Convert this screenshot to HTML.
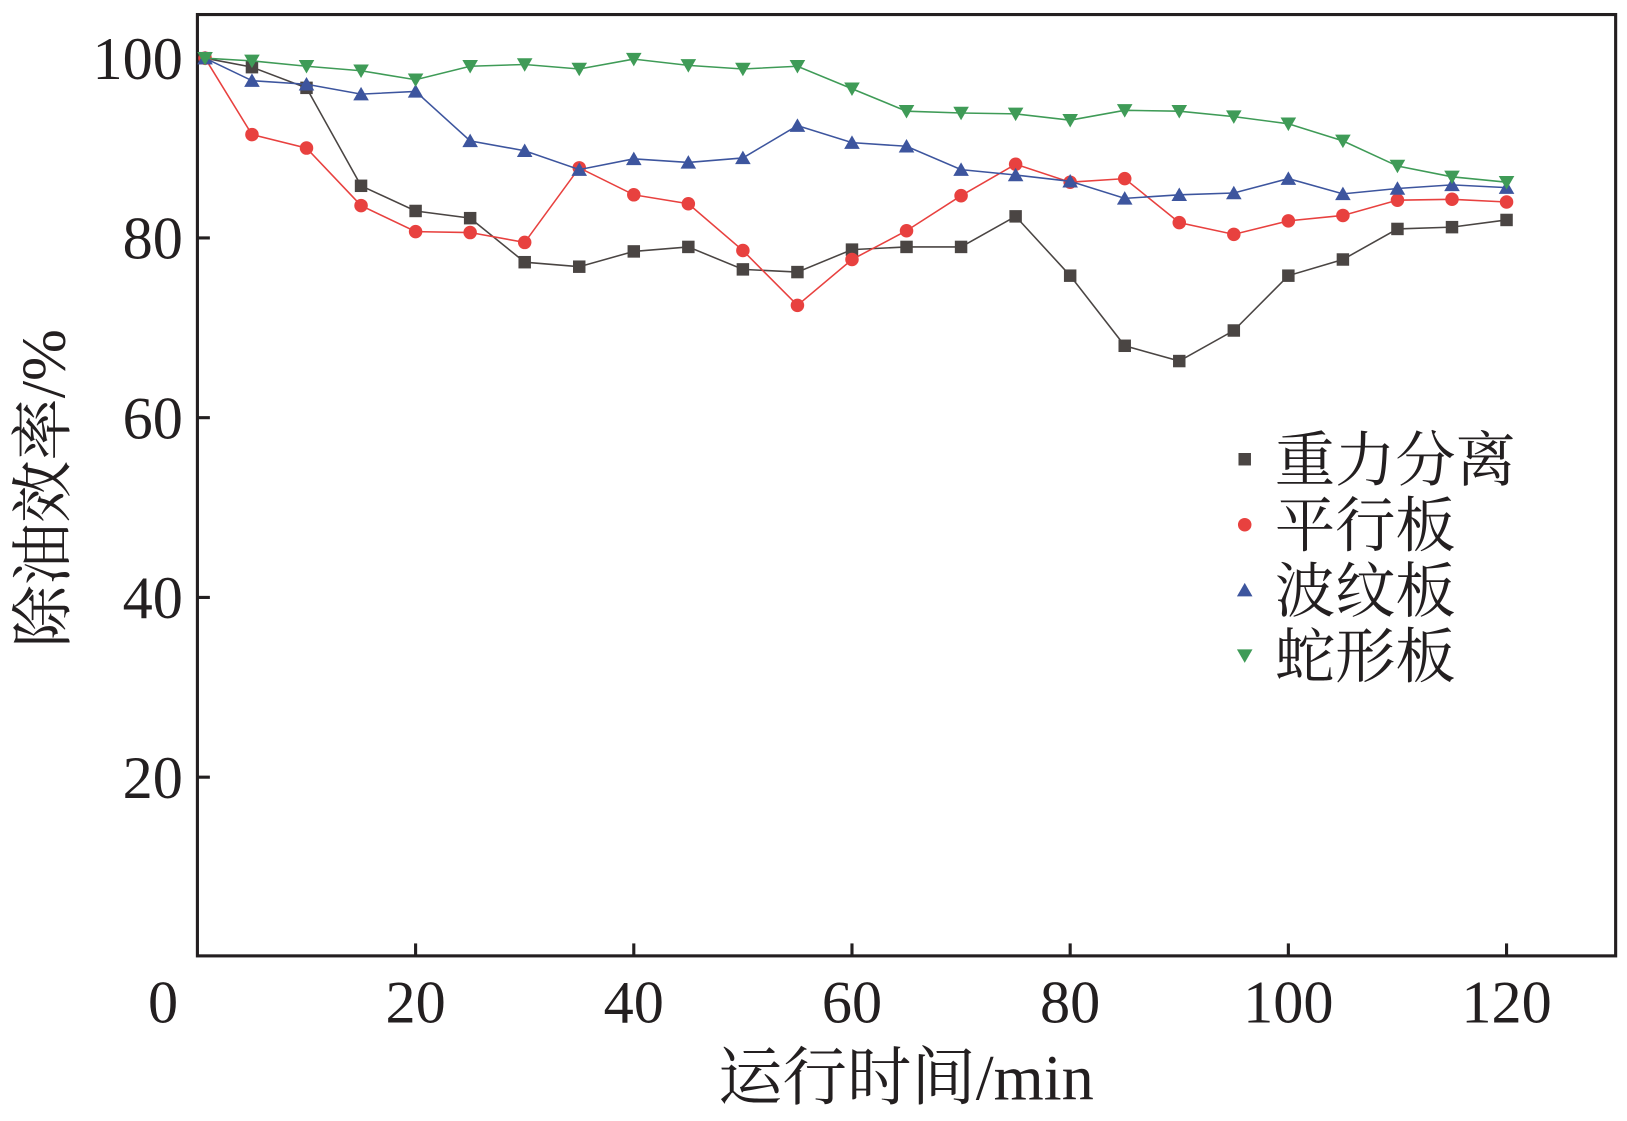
<!DOCTYPE html>
<html><head><meta charset="utf-8"><style>
html,body{margin:0;padding:0;background:#fff;}
svg text{font-family:"Liberation Serif","Noto Serif CJK SC",serif;fill:#231f20;}
</style></head><body>
<svg width="1627" height="1116" viewBox="0 0 1627 1116"><g id="c" transform="scale(1.039)"></g></svg>
<script>
const xVals=[0.7,5,10,15,20,25,30,35,40,45,50,55,60,65,70,75,80,85,90,95,100,105,110,115,120];
const gravity=[100,99,96.7,85.8,83,82.2,77.3,76.8,78.5,79,76.5,76.2,78.7,79,79,82.4,75.8,68,66.3,69.7,75.8,77.6,81,81.2,82];
const parallel=[100,91.5,90,83.6,80.7,80.6,79.5,87.8,84.8,83.8,78.6,72.5,77.6,80.8,84.7,88.2,86.2,86.6,81.7,80.4,81.9,82.5,84.2,84.3,84];
const corrugated=[100,97.5,97.1,96,96.3,90.8,89.7,87.6,88.8,88.4,88.9,92.5,90.6,90.2,87.6,87,86.3,84.4,84.8,85,86.6,84.9,85.5,85.9,85.6];
const serpentine=[100,99.7,99.1,98.6,97.6,99.1,99.3,98.8,99.9,99.2,98.8,99.1,96.6,94.1,93.9,93.8,93.1,94.2,94.1,93.5,92.7,90.8,88,86.8,86.2];
const xTicks=[0,20,40,60,80,100,120];
const yTicks=[20,40,60,80,100];
const seriesNames=["重力分离","平行板","波纹板","蛇形板"];
const NS="http://www.w3.org/2000/svg";
const svg=document.getElementById('c');
const L=190,R=1555,T=14,B=920;
const X=v=>L+v*10.5;
const Y=v=>921-v*8.65;
function mk(tag,attrs,parent){const e=document.createElementNS(NS,tag);for(const k in attrs)e.setAttribute(k,attrs[k]);(parent||svg).appendChild(e);return e;}
const frame=mk('rect',{x:L,y:T,width:R-L,height:B-T,fill:'none',stroke:'#231f20','stroke-width':3});


xTicks.forEach(t=>{
  if(t>0){const l=mk('line',{x1:X(t),x2:X(t),y1:B,y2:B-12,stroke:'#231f20','stroke-width':3});
  
  }
  const tx=mk('text',{x:t===0?157:X(t),y:984,'text-anchor':'middle','font-size':58});
  tx.textContent=t;
  
  
});
yTicks.forEach(t=>{
  const l=mk('line',{x1:L,x2:L+12,y1:Y(t),y2:Y(t),stroke:'#231f20','stroke-width':3});
  
  
  const tx=mk('text',{x:176,y:Y(t)+20,'text-anchor':'end','font-size':58});
  tx.textContent=t;
  
  
});
const xt=mk('text',{x:872,y:1058,'text-anchor':'middle','font-size':62});
xt.textContent='运行时间/min';


const yt=mk('text',{x:0,y:0,'text-anchor':'middle','font-size':60,transform:'translate(62,470) rotate(-90)'});
yt.textContent='除油效率/%';


function marker(kind,x,y,color,g){
  let e;
  if(kind==='sq')e=mk('rect',{x:x-6,y:y-6,width:12,height:12,fill:color},g);
  else if(kind==='ci')e=mk('circle',{cx:x,cy:y,r:6.5,fill:color},g);
  else if(kind==='up')e=mk('polygon',{points:`${x},${y-7} ${x-7.5},${y+6} ${x+7.5},${y+6}`,fill:color},g);
  else e=mk('polygon',{points:`${x},${y+7} ${x-7.5},${y-6} ${x+7.5},${y-6}`,fill:color},g);
  return e;
}
const series=[[gravity,'#4a4543','sq'],[parallel,'#e8413f','ci'],[corrugated,'#3d559e','up'],[serpentine,'#3f9b57','dn']];
series.forEach((s,i)=>{
  const g=mk('g',{});
  
  
  const pts=s[0].map((v,j)=>X(xVals[j])+','+Y(v)).join(' ');
  mk('polyline',{points:pts,fill:'none',stroke:s[1],'stroke-width':1.5},g);
  s[0].forEach((v,j)=>{const m=marker(s[2],X(xVals[j]),Y(v),s[1],g);
    
    });
  const lg=mk('g',{});
  
  
  const ly=442+i*63;
  marker(s[2],1198,ly,s[1],lg);
  const lt=mk('text',{x:1227,y:ly+21,'font-size':58},lg);
  lt.textContent=seriesNames[i];
});
</script>
</body></html>
